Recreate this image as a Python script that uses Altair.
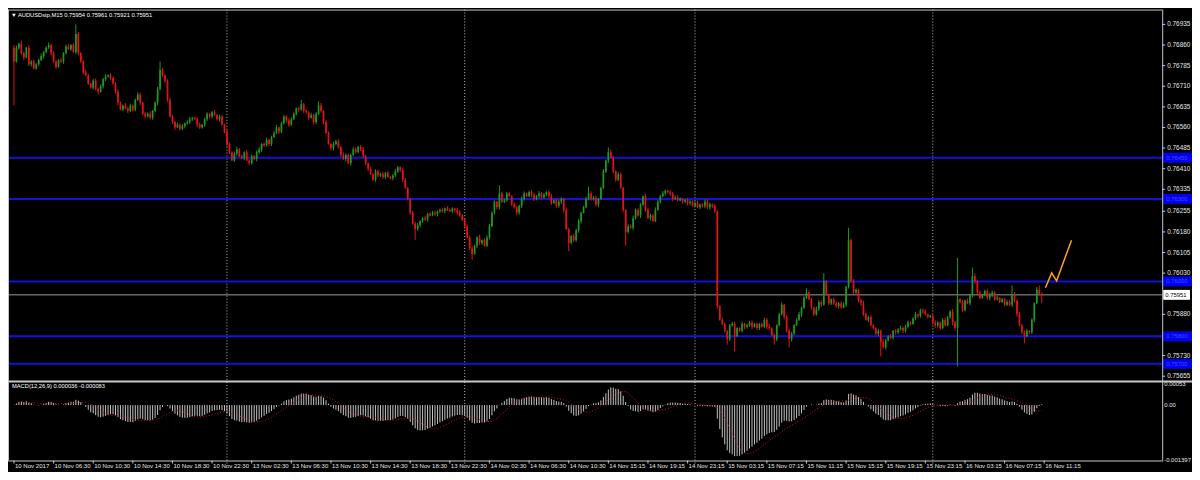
import altair as alt
import pandas as pd

# ---------------- data (prices in points above 0.75000, 1 point = 0.00001) ----------------
BASE = 0.75
PT = 1e-5

first_open = 1850
closes = [
    1800, 1850, 1865, 1830, 1815, 1850, 1790, 1800, 1775, 1790,
    1805, 1820, 1835, 1850, 1860, 1830, 1800, 1780, 1805, 1800,
    1830, 1855, 1845, 1860, 1835, 1900, 1830, 1800, 1760, 1750,
    1720, 1705, 1730, 1700, 1690, 1710, 1735, 1745, 1750, 1740,
    1720, 1690, 1650, 1625, 1640, 1630, 1620, 1640, 1625, 1660,
    1680, 1650, 1610, 1600, 1610, 1595, 1620, 1650, 1700, 1770,
    1750, 1730, 1660, 1600, 1580, 1560, 1570, 1555, 1565, 1575,
    1580, 1590, 1595, 1590, 1570, 1560, 1570, 1590, 1610, 1600,
    1615, 1605, 1590, 1600, 1570, 1545, 1500, 1470, 1440, 1465,
    1480, 1455, 1450, 1470, 1440, 1430, 1455, 1445, 1470, 1480,
    1500, 1495, 1515, 1500, 1525, 1540, 1560, 1545, 1575, 1600,
    1585, 1570, 1590, 1610, 1630, 1625, 1645, 1620, 1615, 1595,
    1605, 1580, 1610, 1640, 1620, 1580, 1540, 1500, 1485, 1500,
    1510, 1490, 1460, 1445, 1460, 1430, 1460, 1480, 1470, 1490,
    1480, 1455, 1430, 1410, 1390, 1370, 1400, 1385, 1390, 1380,
    1395, 1380, 1375, 1385, 1400, 1415, 1405, 1370, 1340, 1300,
    1250, 1210, 1190, 1205, 1220, 1230, 1225, 1245, 1240, 1250,
    1245, 1255, 1260, 1255, 1265, 1260, 1255, 1265, 1260, 1250,
    1240, 1225, 1200, 1160, 1120, 1100, 1130, 1160, 1140, 1150,
    1130, 1160, 1200, 1250, 1290, 1270, 1320, 1290, 1295, 1320,
    1310, 1280, 1270, 1250, 1275, 1300, 1320, 1310, 1325, 1315,
    1300, 1310, 1320, 1305, 1315, 1325, 1310, 1285, 1295, 1275,
    1290, 1300, 1260, 1190, 1140, 1165, 1150, 1185, 1220, 1250,
    1270, 1300, 1320, 1300, 1305, 1280, 1300, 1340, 1400, 1440,
    1470, 1450, 1400, 1370, 1390, 1340, 1260, 1180, 1200, 1195,
    1230, 1260, 1240, 1280, 1310, 1260, 1230, 1240, 1220, 1260,
    1290, 1310, 1320, 1330, 1325, 1320, 1300, 1305, 1295, 1300,
    1290, 1295, 1285, 1290, 1275, 1285, 1270, 1280, 1275, 1290,
    1270, 1280, 1275, 1255, 910, 860, 845, 820, 790, 840,
    845, 800, 830, 820, 845, 835, 840, 850, 835, 845,
    830, 845, 835, 860, 835, 830, 805, 790, 840, 880,
    915, 870, 820, 790, 810, 840, 860, 880, 905, 940,
    960, 935, 905, 880, 900, 925, 915, 1000, 950, 920,
    935, 920, 910, 920, 905, 915, 980, 1150, 1000, 960,
    970, 930, 920, 880, 860, 870, 840, 830, 810, 820,
    780, 760, 785, 800, 795, 820, 815, 825, 830, 820,
    835, 850, 845, 865, 880, 875, 895, 890, 880, 870,
    875, 850, 840, 850, 830, 860, 840, 870, 890, 850,
    830, 935, 925, 895, 930, 920, 950, 1020, 1000, 960,
    940, 950, 965, 940, 950, 960, 935, 940, 925, 935,
    915, 925, 915, 955, 930, 880, 840, 815, 800, 820,
    815, 860, 920, 970, 954, 951,
]

wick_hi = [
    5, 8, 4, 10, 6, 3, 9, 5, 7, 4, 6, 8, 3, 5, 9, 4, 7, 6, 5, 8,
    4, 6, 9, 3, 7, 5, 8, 4, 6, 10, 5, 3, 7, 9, 4, 6, 5, 8, 3, 7,
    6, 4, 8, 5, 3, 9, 6, 7, 4, 5, 8, 6, 3, 7, 5, 9, 4, 6, 8, 5,
    7, 3, 5, 9, 6, 4, 8, 5, 7, 3, 6, 9, 4, 5, 7, 8, 3, 6, 5, 4,
    5, 9, 4, 7, 6, 3, 8, 5, 4, 7, 9, 5, 6, 3, 8, 4, 7, 5, 6, 9,
    3, 6, 8, 4, 5, 7, 9, 3, 6, 5, 4, 8, 7, 5, 3, 6, 9, 4, 8, 5,
    8, 4, 6, 5, 9, 3, 7, 6, 4, 8, 5, 7, 3, 9, 6, 4, 5, 8, 7, 3,
    6, 9, 5, 3, 7, 4, 8, 6, 5, 9, 3, 7, 4, 6, 8, 5, 3, 9, 6, 4,
    4, 7, 6, 8, 3, 5, 9, 4, 7, 6, 8, 3, 5, 7, 4, 9, 6, 5, 3, 8,
    9, 5, 3, 7, 6, 8, 4, 5, 9, 3, 6, 7, 8, 4, 5, 3, 9, 6, 7, 5,
    5, 3, 8, 6, 4, 9, 7, 3, 5, 8, 6, 4, 9, 5, 7, 3, 6, 8, 4, 6,
    7, 6, 4, 9, 5, 3, 8, 7, 6, 4, 5, 9, 3, 8, 6, 7, 4, 5, 9, 3,
    3, 8, 7, 5, 9, 6, 4, 3, 8, 7, 9, 5, 6, 4, 3, 8, 7, 6, 5, 9,
    6, 5, 9, 4, 3, 7, 5, 8, 9, 6, 3, 4, 8, 7, 5, 6, 9, 3, 4, 7,
    8, 7, 3, 6, 5, 4, 9, 6, 3, 5, 7, 8, 4, 3, 9, 5, 6, 7, 8, 4,
    5, 4, 6, 8, 7, 9, 3, 5, 4, 6, 9, 3, 7, 8, 6, 4, 5, 9, 3, 6,
    9, 6, 5, 3, 8, 7, 6, 9, 5, 4, 3, 6, 8, 5, 7, 9, 4, 3, 6, 8,
    4, 3, 7, 9, 6, 5, 8, 4, 3, 7, 5, 9, 6, 4, 8, 3, 7, 5, 9, 6,
    7, 8, 5, 4, 9, 3, 6, 7, 8, 3, 4, 5, 9, 6, 3, 7, 8, 4, 5, 9,
    6, 9, 4, 7, 3, 8, 5, 6, 9, 4, 7, 3, 5, 8, 9, 6, 4, 7, 3, 5,
    5, 7, 8, 3, 6, 4, 9, 5, 7, 8, 3, 6, 4, 9, 5, 7,
]

wick_lo = [
    6, 4, 7, 5, 9, 3, 6, 8, 4, 5, 7, 3, 9, 6, 4, 8, 5, 7, 3, 6,
    8, 5, 3, 6, 4, 9, 7, 5, 8, 3, 6, 4, 7, 5, 9, 3, 8, 6, 4, 7,
    4, 7, 9, 3, 6, 5, 8, 4, 7, 6, 3, 9, 5, 8, 4, 6, 7, 3, 9, 5,
    5, 8, 6, 4, 7, 9, 3, 6, 5, 8, 4, 7, 6, 3, 9, 5, 4, 8, 6, 7,
    7, 3, 5, 8, 4, 6, 9, 7, 3, 5, 8, 4, 6, 9, 3, 7, 5, 4, 8, 6,
    9, 6, 4, 7, 8, 3, 5, 9, 6, 4, 7, 8, 5, 3, 6, 9, 4, 7, 5, 8,
    3, 9, 8, 5, 6, 7, 4, 3, 9, 8, 5, 6, 7, 4, 9, 3, 8, 5, 6, 4,
    6, 5, 7, 9, 3, 4, 8, 6, 5, 7, 9, 3, 4, 8, 5, 6, 7, 9, 3, 5,
    8, 4, 3, 6, 9, 7, 5, 8, 4, 3, 6, 9, 7, 5, 8, 4, 3, 6, 9, 7,
    5, 7, 8, 4, 5, 6, 3, 9, 7, 8, 4, 5, 6, 3, 7, 9, 8, 4, 5, 6,
    4, 6, 5, 9, 7, 8, 6, 4, 3, 9, 7, 5, 8, 6, 4, 5, 9, 7, 3, 8,
    7, 8, 9, 3, 4, 5, 7, 6, 8, 9, 3, 4, 5, 7, 6, 8, 9, 3, 4, 5,
    9, 3, 6, 8, 5, 4, 9, 7, 6, 3, 8, 5, 4, 9, 7, 6, 3, 8, 5, 4,
    3, 5, 4, 7, 6, 9, 8, 3, 5, 4, 7, 6, 9, 8, 3, 5, 4, 7, 6, 9,
    6, 9, 7, 5, 8, 3, 4, 6, 9, 7, 5, 8, 3, 4, 6, 9, 7, 5, 8, 3,
    8, 7, 3, 4, 9, 6, 5, 8, 7, 3, 4, 9, 6, 5, 8, 7, 3, 4, 9, 6,
    4, 3, 8, 6, 5, 7, 9, 4, 3, 8, 6, 5, 7, 9, 4, 3, 8, 6, 5, 7,
    5, 6, 9, 7, 3, 8, 4, 5, 6, 9, 7, 3, 8, 4, 5, 6, 9, 7, 3, 8,
    7, 4, 5, 3, 6, 9, 8, 7, 4, 5, 3, 6, 9, 8, 7, 4, 5, 3, 6, 9,
    9, 8, 6, 5, 4, 3, 7, 9, 8, 6, 5, 4, 3, 7, 9, 8, 6, 5, 4, 3,
    6, 5, 4, 8, 7, 9, 3, 6, 5, 4, 8, 7, 9, 3, 6, 5,
]

# visible spikes (bar index -> extreme, points above 0.75)
spike_highs = {0: 1860, 25: 1935, 59: 1800, 116: 1660, 123: 1655, 196: 1350,
               232: 1345, 240: 1487, 241: 1480, 320: 975, 327: 1030, 337: 1195,
               381: 1085, 387: 1050, 403: 985, 414: 985, 415: 961}
spike_lows = {0: 1640, 162: 1150, 185: 1078, 224: 1110, 247: 1130, 288: 770,
              291: 745, 307: 770, 313: 760, 350: 727, 381: 691, 408: 775, 415: 921}

level_prices = [0.76450, 0.76300, 0.76000, 0.75800, 0.75700]
current_price = [0.75951]
price_ticks = [0.76935, 0.76860, 0.76785, 0.76710, 0.76635, 0.76560, 0.76485,
               0.76410, 0.76335, 0.76255, 0.76180, 0.76105, 0.76030, 0.75880,
               0.75730, 0.75655]
time_labels = ["10 Nov 2017", "10 Nov 06:30", "10 Nov 10:30", "10 Nov 14:30",
               "10 Nov 18:30", "10 Nov 22:30", "13 Nov 02:30", "13 Nov 06:30",
               "13 Nov 10:30", "13 Nov 14:30", "13 Nov 18:30", "13 Nov 22:30",
               "14 Nov 02:30", "14 Nov 06:30", "14 Nov 10:30", "14 Nov 15:15",
               "14 Nov 19:15", "14 Nov 23:15", "15 Nov 03:15", "15 Nov 07:15",
               "15 Nov 11:15", "15 Nov 15:15", "15 Nov 19:15", "15 Nov 23:15",
               "16 Nov 03:15", "16 Nov 07:15", "16 Nov 11:15"]
time_label_bars = [0, 16, 32, 48, 64, 80, 96, 112, 128, 144, 160, 176, 192, 208,
                   224, 240, 256, 272, 288, 304, 320, 336, 352, 368, 384, 400, 416]
day_separators = [86, 182, 275, 371]
forecast_bar = [416.5, 419.0, 421.0, 427.0]
forecast_price = [0.75977, 0.76031, 0.76002, 0.76150]
macd_labels = ["0.00053", "0.00", "-0.001397"]
macd_label_values = [0.00053, 0.0, -0.001397]
title_text = ["\u25bc AUDUSDstp,M15  0.75954 0.75961 0.75921 0.75951"]
macd_title = ["MACD(12,26,9) 0.000036 -0.000083"]

# ---------------- tables ----------------
opens = [first_open] + closes[:-1]
rows = []
for i, (o, c) in enumerate(zip(opens, closes)):
    h = spike_highs.get(i, max(o, c) + wick_hi[i])
    l = spike_lows.get(i, min(o, c) - wick_lo[i])
    rows.append(dict(i=i, o=BASE + o * PT, c=BASE + c * PT,
                     h=BASE + h * PT, l=BASE + l * PT))
df = pd.DataFrame(rows)

ema12 = df["c"].ewm(span=12, adjust=False).mean()
ema26 = df["c"].ewm(span=26, adjust=False).mean()
dm = pd.DataFrame({"i": df["i"], "macd": ema12 - ema26})
dm["signal"] = dm["macd"].rolling(9, min_periods=1).mean()

# ---------------- layout / style ----------------
W, H = 1162, 454
RIGHT_PAD = 30
PX_BAR = 2.515
MAIN_BOTTOM = 373
MACD_TOP = 377
FONT = "Liberation Sans"
FS = 6.5
GREEN, RED = "#1c9c1c", "#e41414"
BLUE = "#1212d8"
FRAME = "#c8c8c8"
TXT = "#e6e6e6"

xs = alt.Scale(domain=[-0.4, -0.4 + W / PX_BAR], nice=False, zero=False)
ys = alt.Scale(domain=[0.75641, 0.76989], range=[MAIN_BOTTOM, 0], nice=False, zero=False)
ms = alt.Scale(domain=[-0.001397, 0.00053], range=[H, MACD_TOP], nice=False, zero=False)

one = pd.DataFrame({"k": [0]})
color = alt.condition("datum.c >= datum.o", alt.value(GREEN), alt.value(RED))

# frames
frame_l = alt.Chart(one).mark_rule(color=FRAME, strokeWidth=1).encode(
    x=alt.value(0.5), y=alt.value(0), y2=alt.value(H))
frame_r = alt.Chart(one).mark_rule(color=FRAME, strokeWidth=1).encode(
    x=alt.value(W + 0.5), y=alt.value(0), y2=alt.value(H))
frame_top = alt.Chart(one).mark_rule(color=FRAME, strokeWidth=1).encode(
    x=alt.value(0), x2=alt.value(W), y=alt.value(0.5))
frame_mid = alt.Chart(one).mark_rule(color=FRAME, strokeWidth=2).encode(
    x=alt.value(0), x2=alt.value(W + RIGHT_PAD), y=alt.value(MAIN_BOTTOM + 1.5))
frame_bot = alt.Chart(one).mark_rule(color=FRAME, strokeWidth=1).encode(
    x=alt.value(0), x2=alt.value(W + 1), y=alt.value(H + 0.5))

seps = alt.Chart(pd.DataFrame({"i": day_separators})).mark_rule(
    color="#bdbdbd", strokeDash=[1, 2], strokeWidth=1).encode(
    x=alt.X("i:Q", scale=xs, axis=None), y=alt.value(0), y2=alt.value(H + 5))

# time axis (ticks + labels)
tdf = pd.DataFrame({"i": time_label_bars, "t": time_labels})
t_ticks = alt.Chart(tdf).mark_rule(color=FRAME, strokeWidth=1).encode(
    x=alt.X("i:Q", scale=xs, axis=None), y=alt.value(H), y2=alt.value(H + 3))
t_text = alt.Chart(tdf).mark_text(align="left", baseline="top", dx=1, font=FONT,
                                  fontSize=6.1, color=TXT).encode(
    x=alt.X("i:Q", scale=xs, axis=None), y=alt.value(H + 3), text="t:N")

# price panel
levels = alt.Chart(pd.DataFrame({"p": level_prices})).mark_rule(color=BLUE, strokeWidth=2).encode(
    y=alt.Y("p:Q", scale=ys, axis=None))
cur_line = alt.Chart(pd.DataFrame({"p": current_price})).mark_rule(color="#9a9a9a", strokeWidth=1).encode(
    y=alt.Y("p:Q", scale=ys, axis=None))
wicks = alt.Chart(df).mark_rule(strokeWidth=1).encode(
    x=alt.X("i:Q", scale=xs, axis=None),
    y=alt.Y("l:Q", scale=ys, axis=None), y2="h:Q", color=color)
bodies = alt.Chart(df).mark_bar(size=1.7).encode(
    x=alt.X("i:Q", scale=xs, axis=None),
    y=alt.Y("o:Q", scale=ys, axis=None), y2="c:Q", color=color)
zigzag = alt.Chart(pd.DataFrame({"fx": forecast_bar, "fy": forecast_price})).mark_line(
    color="#ffa21a", strokeWidth=1.5).encode(
    x=alt.X("fx:Q", scale=xs, axis=None), y=alt.Y("fy:Q", scale=ys, axis=None))
pt_df = pd.DataFrame({"p": price_ticks})
p_ticks = alt.Chart(pt_df).mark_rule(color=FRAME, strokeWidth=1).encode(
    x=alt.value(W), x2=alt.value(W + 3), y=alt.Y("p:Q", scale=ys, axis=None))
p_text = alt.Chart(pt_df).mark_text(align="left", baseline="middle", font=FONT,
                                    fontSize=FS, color=TXT).encode(
    x=alt.value(W + 5), y=alt.Y("p:Q", scale=ys, axis=None),
    text=alt.Text("p:Q", format=".5f"))
lvl_box = alt.Chart(pd.DataFrame({"p": level_prices})).mark_rect(
    color="#0000f0", yOffset=-5, y2Offset=5).encode(
    x=alt.value(W + 1), x2=alt.value(W + RIGHT_PAD),
    y=alt.Y("p:Q", scale=ys, axis=None), y2="p:Q")
lvl_txt = alt.Chart(pd.DataFrame({"p": level_prices})).mark_text(
    align="left", baseline="middle", font=FONT, fontSize=6, color="#4a4aff").encode(
    x=alt.value(W + 4), y=alt.Y("p:Q", scale=ys, axis=None), text=alt.Text("p:Q", format=".5f"))
cur_box = alt.Chart(pd.DataFrame({"p": current_price})).mark_rect(
    color="#ffffff", yOffset=-5, y2Offset=5).encode(
    x=alt.value(W + 1), x2=alt.value(W + 28),
    y=alt.Y("p:Q", scale=ys, axis=None), y2="p:Q")
cur_txt = alt.Chart(pd.DataFrame({"p": current_price})).mark_text(
    align="left", baseline="middle", font=FONT, fontSize=6, color="#000000").encode(
    x=alt.value(W + 3), y=alt.Y("p:Q", scale=ys, axis=None), text=alt.Text("p:Q", format=".5f"))

price_layer = alt.layer(levels, cur_line, wicks, bodies, zigzag, p_ticks, p_text,
                        lvl_box, lvl_txt, cur_box, cur_txt)

# macd panel
hist = alt.Chart(dm).mark_rule(color="#c4c4c4", strokeWidth=1).encode(
    x=alt.X("i:Q", scale=xs, axis=None),
    y=alt.Y("macd:Q", scale=ms, axis=None), y2=alt.datum(0))
sig = alt.Chart(dm).mark_line(color="#d01818", strokeDash=[1, 2], strokeWidth=1).encode(
    x=alt.X("i:Q", scale=xs, axis=None), y=alt.Y("signal:Q", scale=ms, axis=None))
mlab_df = pd.DataFrame({"v": macd_label_values, "t": macd_labels, "dy": [8, 0, -3]})
mlab = alt.Chart(mlab_df).mark_text(align="left", baseline="middle", font=FONT,
                                    fontSize=6, color=TXT).encode(
    x=alt.value(W + 2), y=alt.Y("v:Q", scale=ms, axis=None), text="t:N",
    yOffset=alt.YOffset("dy:Q", scale=None))
macd_layer = alt.layer(hist, sig, mlab)

# texts
title = alt.Chart(pd.DataFrame({"t": title_text})).mark_text(
    align="left", baseline="middle", font=FONT, fontSize=5.8, color="#ffffff").encode(
    x=alt.value(3), y=alt.value(5), text="t:N")
mtitle = alt.Chart(pd.DataFrame({"t": macd_title})).mark_text(
    align="left", baseline="middle", font=FONT, fontSize=5.8, color="#ffffff").encode(
    x=alt.value(4), y=alt.value(MAIN_BOTTOM + 6), text="t:N")

chart = alt.layer(seps, price_layer, macd_layer, frame_l, frame_r, frame_top, frame_mid,
                  frame_bot, t_ticks, t_text, title, mtitle).resolve_scale(
    y="independent"
).properties(
    width=W, height=H,
    autosize=alt.AutoSizeParams(type="none"),
    padding={"left": 0, "top": 0, "right": RIGHT_PAD, "bottom": 464 - H},
).configure(background="#000000").configure_view(stroke=None)

chart.save("out.html", embed_options={"renderer": "svg", "actions": False})
